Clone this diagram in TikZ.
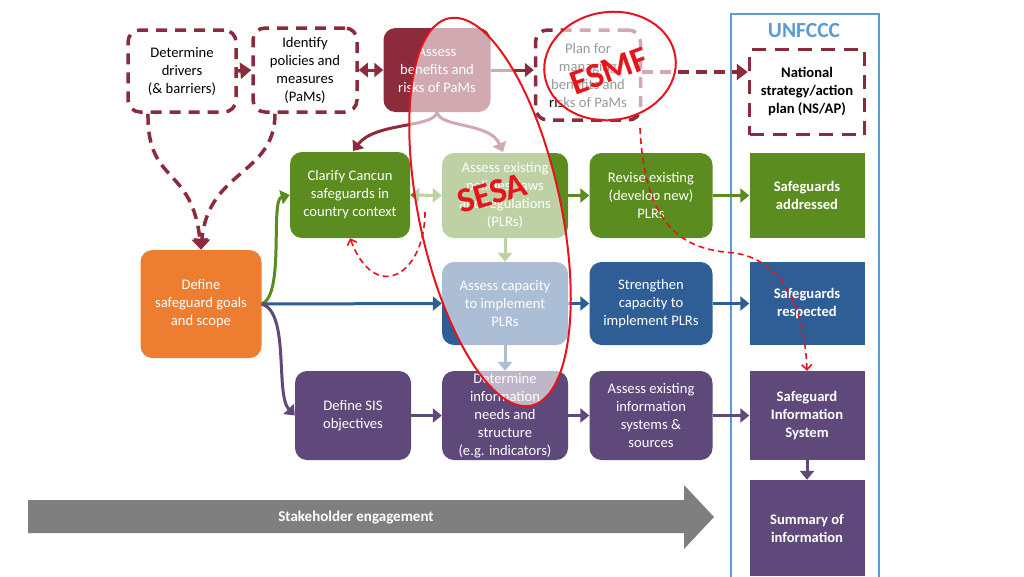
\documentclass[tikz,border=0pt]{standalone}
\usepackage{fontspec}
\setmainfont{Carlito}
\usetikzlibrary{arrows.meta,calc}
\definecolor{dred}{HTML}{8C2B3C}
\definecolor{sgreen}{HTML}{5B8C1F}
\definecolor{sblue}{HTML}{2F5E96}
\definecolor{spurple}{HTML}{5F497A}
\definecolor{sorange}{HTML}{ED7D31}
\definecolor{ublue}{HTML}{5B9BD5}
\definecolor{annot}{HTML}{E8141B}
\definecolor{sgray}{HTML}{7F7F7F}
\begin{document}
\begin{tikzpicture}[x=1pt,y=-1pt,
  box/.style={rounded corners=12pt, align=center, inner sep=0pt, text=white,
    font=\fontsize{14.6}{18}\selectfont},
  dbox/.style={box, draw=dred, line width=3.5pt, dash pattern=on 11pt off 8pt, text=black},
  sq/.style={align=center, inner sep=0pt, text=white, font=\fontsize{14.6}{18}\selectfont\bfseries},
  arr/.style={line width=3pt, -{Triangle[length=9pt,width=14pt]}},
  darr/.style={line width=3pt, {Triangle[length=9pt,width=14pt]}-{Triangle[length=9pt,width=14pt]}},
  dasharr/.style={line width=3.5pt, draw=dred, dash pattern=on 11pt off 7pt, -{Triangle[length=11pt,width=16pt]}},
  reddash/.style={line width=1.6pt, draw=annot, dash pattern=on 6pt off 4pt, -{Straight Barb[length=5pt,width=10pt]}},
  annottext/.style={text=annot, font=\fontsize{35}{37}\selectfont\bfseries, inner sep=0pt}
]
\useasboundingbox (0,0) rectangle (1024,576);
\fill[white] (0,0) rectangle (1024,576);

% UNFCCC frame
\draw[ublue, line width=2pt] (731,14) rectangle (879,590);
\node[text=ublue, font=\fontsize{21.5}{23}\selectfont\bfseries] (unf) at (804,31) {UNFCCC};

% top row
\node[dbox, minimum width=108pt, minimum height=82pt] (drv) at (182,71) {Determine\\drivers\\(\& barriers)};
\node[dbox, minimum width=104pt, minimum height=84pt] (pam) at (305,70) {Identify\\policies and\\measures\\(PaMs)};
\node[box, fill=dred, minimum width=107pt, minimum height=84pt] (ben) at (437,70) {Assess\\benefits and\\risks of PaMs};
\node[dbox, minimum width=105pt, minimum height=90pt] (plan) at (588,75) {Plan for\\managing\\benefits and\\risks of PaMs};
\node[sq, text=black, draw=dred, line width=3.5pt, dash pattern=on 14pt off 9pt, minimum width=115pt, minimum height=85pt] (nsap) at (807,92) {National\\strategy/action\\plan (NS/AP)};

% green row
\node[box, fill=sgreen, minimum width=120pt, minimum height=86pt] (clar) at (350,195) {Clarify Cancun\\safeguards in\\country context};
\node[box, fill=sgreen, minimum width=126pt, minimum height=85pt] (aex) at (505,195.5) {Assess existing\\policies, laws\\and regulations\\(PLRs)};
\node[box, fill=sgreen, minimum width=123pt, minimum height=85pt] (rev) at (651,195.5) {Revise existing\\(develop new)\\PLRs};
\node[sq, fill=sgreen, minimum width=115pt, minimum height=85pt] (sga) at (807,195.5) {Safeguards\\addressed};

% blue row
\node[box, fill=sorange, minimum width=121pt, minimum height=108pt] (def) at (201,304) {Define\\safeguard goals\\and scope};
\node[box, fill=sblue, minimum width=126pt, minimum height=83pt] (acap) at (505,303.5) {Assess capacity\\to implement\\PLRs};
\node[box, fill=sblue, minimum width=123pt, minimum height=83pt] (str) at (651,303.5) {Strengthen\\capacity to\\implement PLRs};
\node[sq, fill=sblue, minimum width=115pt, minimum height=83pt] (sgr) at (807,303.5) {Safeguards\\respected};

% purple row
\node[box, fill=spurple, minimum width=116pt, minimum height=89pt] (sis) at (353,415.5) {Define SIS\\objectives};
\node[box, fill=spurple, minimum width=126pt, minimum height=89pt] (dinf) at (505,415.5) {Determine\\information\\needs and\\structure\\(e.g. indicators)};
\node[box, fill=spurple, minimum width=123pt, minimum height=89pt] (aexi) at (651,415.5) {Assess existing\\information\\systems \&\\sources};
\node[sq, fill=spurple, minimum width=115pt, minimum height=89pt] (sgis) at (807,415.5) {Safeguard\\Information\\System};
\node[sq, fill=spurple, minimum width=115pt, minimum height=96pt] (sum) at (807,528) {Summary of\\information};

% stakeholder arrow
\fill[sgray] (28,500) -- (684,500) -- (684,485) -- (714,517) -- (684,549) -- (684,533) -- (28,533) -- cycle;
\node[text=white, font=\fontsize{15}{17}\selectfont\bfseries] (stk) at (356,517) {Stakeholder engagement};

% connectors top
\draw[dasharr] (drv.east) -- (pam.west);
\draw[darr, dred] (pam.east) -- (ben.west);
\draw[arr, dred] (ben.east) -- (plan.west |- ben.east);
\draw[dasharr] (plan.east |- 0,72) -- (nsap.west |- 0,72);
\draw[arr, dred] (ben.south) .. controls (434,128) and (375,122) .. (353,151);
\draw[arr, dred] (ben.south) .. controls (440,128) and (490,122) .. (503,152);
\draw[dasharr] ([xshift=-34pt]drv.south) .. controls (147,185) and (192,165) .. (def.north);
\draw[dasharr] ([xshift=-30pt]pam.south) .. controls (275,175) and (208,170) .. (def.north);

% from define
\draw[arr, sgreen] (def.east) .. controls (285,295) and (270,200) .. (clar.west);
\draw[arr, sblue] (def.east) -- (acap.west);
\draw[arr, spurple] (def.east) .. controls (290,312) and (275,395) .. (sis.west);

% green row
\draw[darr, sgreen] (clar.east) -- (aex.west);
\draw[arr, sgreen] (aex.east) -- (rev.west);
\draw[arr, sgreen] (rev.east) -- (sga.west);
\draw[arr, sgreen] (aex.south) -- (acap.north);
% blue row
\draw[arr, sblue] (acap.east) -- (str.west);
\draw[arr, sblue] (str.east) -- (sgr.west);
\draw[arr, sblue] (acap.south) -- (dinf.north);
% purple row
\draw[arr, spurple] (sis.east) -- (dinf.west);
\draw[arr, spurple] (dinf.east) -- (aexi.west);
\draw[arr, spurple] (aexi.east) -- (sgis.west);
\draw[arr, spurple] (sgis.south) -- (sum.north);

% overlays
\fill[white, fill opacity=0.6, rotate around={12:(490,212)}] (490,212) ellipse [x radius=71pt, y radius=198pt];
\fill[white, fill opacity=0.6, rotate around={8:(610,66)}] (610,66) ellipse [x radius=66pt, y radius=54pt];

% annotations
\draw[annot, line width=2pt, rotate around={12:(490,212)}] (490,212) ellipse [x radius=71pt, y radius=198pt];
\draw[annot, line width=2pt, rotate around={8:(610,66)}] (610,66) ellipse [x radius=66pt, y radius=54pt];
\node[annottext, rotate=16] (sesa) at (492,193) {SESA};
\node[annottext, rotate=20] (esmf) at (609,71) {ESMF};

\coordinate (ra) at (425,212);
\draw[reddash] (ra) .. controls (425,275) and (375,305) .. (clar.south);
\coordinate (rb) at (640,128);
\draw[reddash] (rb) .. controls (645,235) and (690,250) .. (735,253) .. controls (790,262) and (805,320) .. (sgis.north);
\end{tikzpicture}
\end{document}
